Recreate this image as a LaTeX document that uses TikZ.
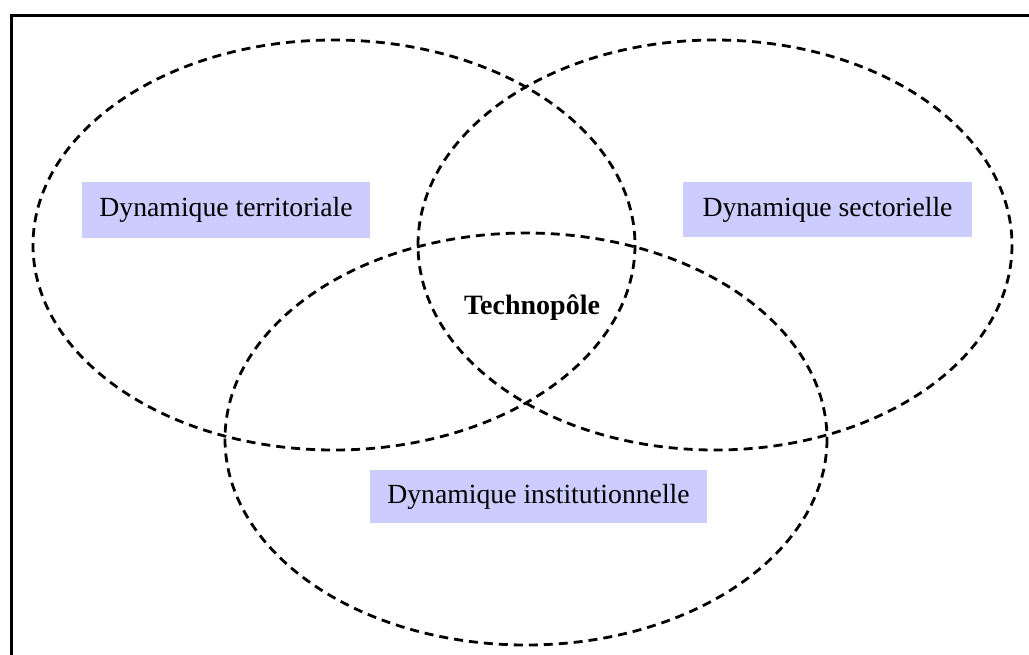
\documentclass[tikz,border=0pt]{standalone}
\usepackage{fontspec}
\setmainfont{Liberation Serif}
\definecolor{lav}{HTML}{CCCCFF}
\begin{document}
\begin{tikzpicture}[x=1pt,y=-1pt,
  ring/.style={draw=black,line width=2.8pt,dash pattern=on 9pt off 6pt},
  label/.style={fill=lav,inner sep=0pt,font=\fontsize{27.7}{32}\selectfont,text=black}]
\useasboundingbox (0,0) rectangle (1029,654);
\clip (0,0) rectangle (1029,654);
\draw[line width=3pt] (11,15) rectangle (1040,670);
\draw[ring] (334,245) ellipse [x radius=301, y radius=205];
\draw[ring] (715,245) ellipse [x radius=297, y radius=205];
\draw[ring] (526,439) ellipse [x radius=301, y radius=206];
\node[label,minimum width=288pt,minimum height=56pt] (terr) at (226,210) {Dynamique territoriale};
\node[label,minimum width=289pt,minimum height=55pt] (sect) at (827.5,209.5) {Dynamique sectorielle};
\node[label,minimum width=337pt,minimum height=53pt] (inst) at (538.5,496.5) {Dynamique institutionnelle};
\node[font=\fontsize{28}{32}\selectfont\bfseries,inner sep=0pt] (tech) at (532,308) {Technopôle};
\end{tikzpicture}
\end{document}
